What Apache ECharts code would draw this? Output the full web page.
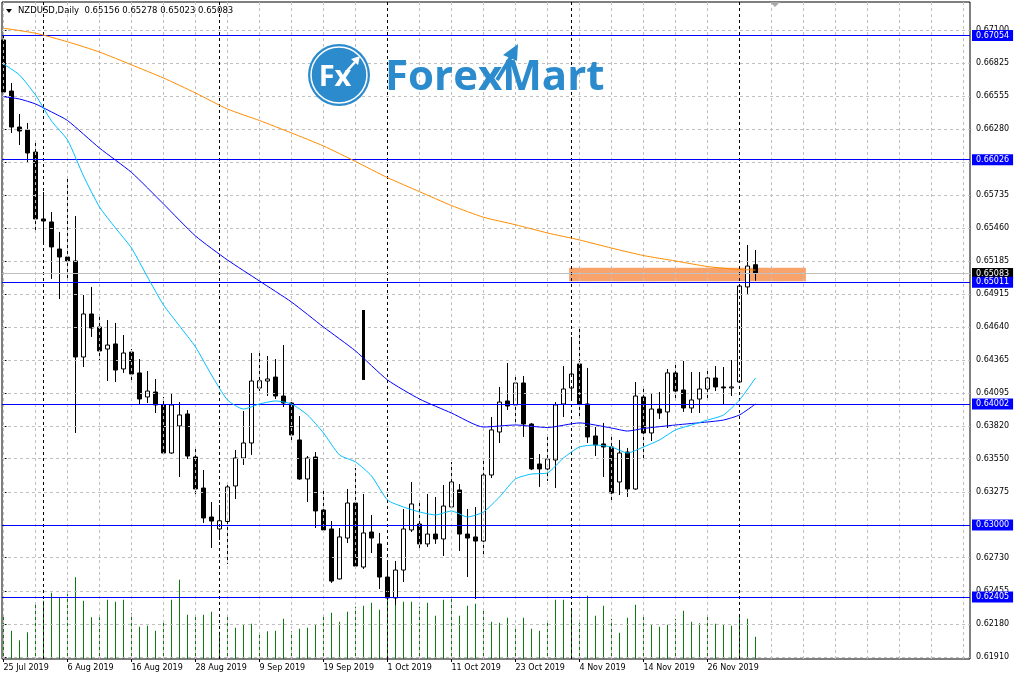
<!DOCTYPE html>
<html><head><meta charset="utf-8">
<script src="https://cdn.jsdelivr.net/npm/echarts@6/dist/echarts.min.js"></script>
<style>html,body{margin:0;padding:0;background:#fff}#c{width:1016px;height:679px}</style>
</head><body><div id="c"></div>
<script>
const symbolName = 'NZDUSD,Daily';
const dateLabels = ['25 Jul 2019','6 Aug 2019','16 Aug 2019','28 Aug 2019','9 Sep 2019','19 Sep 2019','1 Oct 2019','11 Oct 2019','23 Oct 2019','4 Nov 2019','14 Nov 2019','26 Nov 2019'];
const dateIdx = [0,8,16,24,32,40,48,56,64,72,80,88];
const yTicks = [0.61910,0.62180,0.62455,0.62730,0.63000,0.63275,0.63550,0.63820,0.64095,0.64365,0.64640,0.64915,0.65185,0.65460,0.65735,0.66005,0.66280,0.66555,0.66825,0.67100];
const gridIdx = [0,4,8,12,16,20,24,28,32,36,40,44,48,52,56,60,64,68,72,76,80,84,88,92,96,100,104,108,112,116,120];
const monthSepIdx = [5,27,48,71,92];

const open = [0.67017,0.66594,0.66296,0.66272,0.66089,0.65535,0.65510,0.65286,0.65220,0.65187,
0.64392,0.64748,0.64640,0.64458,0.64500,0.64293,0.64433,0.64260,0.64061,0.64102,
0.63995,0.63597,0.63821,0.63920,0.63564,0.63307,0.63067,0.62968,0.63030,0.63324,
0.63556,0.63680,0.64135,0.64193,0.64226,0.64069,0.64011,0.63705,0.63382,0.63564,
0.63125,0.62968,0.62554,0.62893,0.63183,0.62653,0.62943,0.62844,0.62570,0.62397,
0.62628,0.62960,0.63009,0.62844,0.62926,0.62885,0.63150,0.63291,0.62926,0.62902,
0.62868,0.63415,0.63771,0.64028,0.63995,0.64177,0.63837,0.63506,0.63465,0.63539,
0.64003,0.64135,0.64334,0.64003,0.63738,0.63672,0.63647,0.63357,0.63605,0.63299,
0.64061,0.63763,0.63961,0.63937,0.64260,0.64119,0.63970,0.64044,0.64127,0.64218,
0.64144,0.64136,0.64185,0.64972,0.65156];
const high = [0.67075,0.66661,0.66404,0.66330,0.66172,0.65758,0.65593,0.65427,0.65866,0.65559,
0.64905,0.64972,0.64740,0.64698,0.64674,0.64574,0.64458,0.64375,0.64276,0.64210,
0.64061,0.64086,0.64019,0.63953,0.63647,0.63456,0.63191,0.63167,0.63349,0.63622,
0.63945,0.64425,0.64433,0.64400,0.64375,0.64491,0.64020,0.63903,0.63572,0.63605,
0.63307,0.63034,0.62976,0.63299,0.63473,0.63258,0.63084,0.62935,0.62711,0.62703,
0.63133,0.63357,0.63200,0.63258,0.63233,0.63332,0.63523,0.63340,0.63133,0.63150,
0.63531,0.63895,0.64144,0.64342,0.64251,0.64235,0.63845,0.63589,0.63738,0.64019,
0.64317,0.64558,0.64640,0.64301,0.63812,0.63846,0.63746,0.63705,0.63639,0.64185,
0.64144,0.64094,0.64102,0.64293,0.64342,0.64359,0.64268,0.64268,0.64293,0.64317,
0.64309,0.64367,0.64985,0.65319,0.65278];
const low = [0.66561,0.66247,0.66147,0.65998,0.65419,0.65319,0.65038,0.64872,0.65046,0.63763,
0.64309,0.64558,0.64367,0.64193,0.64185,0.64260,0.64185,0.64003,0.64011,0.63928,
0.63589,0.63590,0.63398,0.63547,0.63241,0.63018,0.62811,0.62877,0.62678,0.63216,
0.63498,0.63581,0.64110,0.64069,0.64044,0.63978,0.63696,0.63375,0.63191,0.62976,
0.62935,0.62521,0.62550,0.62852,0.62637,0.62637,0.62769,0.62471,0.62380,0.62339,
0.62529,0.62943,0.62811,0.62819,0.62844,0.62744,0.63133,0.62786,0.62570,0.62388,
0.62753,0.63390,0.63680,0.63953,0.63837,0.63730,0.63456,0.63316,0.63365,0.63307,
0.63895,0.64036,0.63879,0.63680,0.63572,0.63398,0.63191,0.63249,0.63233,0.63291,
0.63539,0.63696,0.63879,0.63804,0.64028,0.63937,0.63928,0.63928,0.64036,0.64110,
0.64003,0.64069,0.64177,0.64914,0.65023];
const close = [0.66586,0.66296,0.66263,0.66081,0.65535,0.65518,0.65303,0.65220,0.65187,0.64392,
0.64748,0.64632,0.64442,0.64491,0.64284,0.64425,0.64251,0.64044,0.64110,0.63995,
0.63597,0.63995,0.63912,0.63572,0.63299,0.63059,0.63034,0.63036,0.63316,0.63556,
0.63680,0.64193,0.64195,0.64210,0.64069,0.64011,0.63746,0.63382,0.63556,0.63117,
0.62960,0.62537,0.62902,0.63183,0.62661,0.62935,0.62893,0.62570,0.62397,0.62628,
0.62968,0.63175,0.62844,0.62926,0.62885,0.63158,0.63357,0.62926,0.62893,0.62868,
0.63415,0.63788,0.64019,0.63986,0.64177,0.63837,0.63465,0.63465,0.63547,0.63995,
0.64127,0.64251,0.64003,0.63730,0.63663,0.63647,0.63266,0.63597,0.63299,0.64069,
0.63763,0.63961,0.63928,0.64260,0.64110,0.63970,0.64036,0.64127,0.64218,0.64144,
0.64136,0.64144,0.64980,0.65145,0.65083];
const volume = [43300,28300,18700,26700,55700,58300,66300,61700,65300,81700,
58300,41700,41700,59300,57300,59300,45700,32300,33300,28300,
36700,59300,79300,44300,43700,44300,47300,27300,42300,31300,
34700,35300,26700,27700,28300,40300,27700,30300,31300,34300,
42300,46300,37300,47300,52300,53300,56300,49300,66000,54700,
57300,57300,52300,56300,43300,59300,61300,43300,53300,55300,
50300,37300,36300,41300,33300,41300,30300,28300,38700,59300,
59300,51000,39300,63300,43300,53300,40300,26300,41300,54300,
42300,34300,32300,34300,40300,48300,37300,35700,43300,35300,
34300,33300,42300,40300,22300];

const ma200Idx = [0,4,8,12,16,20,24,28,32,36,40,44,48,52,56,60,64,68,72,76,80,84,88,92,94];
const ma200 = [0.67114,0.67073,0.67002,0.66917,0.66811,0.66702,0.66578,0.66445,0.66350,0.66247,0.66139,0.66011,0.65877,0.65761,0.65646,0.65549,0.65487,0.65419,0.65361,0.65294,0.65232,0.65187,0.65141,0.65116,0.65112];
const ma50Idx = [0,2,4,6,8,12,16,20,24,28,32,36,40,44,48,52,56,60,64,68,72,76,78,80,84,88,90,92,94];
const ma50 = [0.66547,0.66528,0.66487,0.66421,0.66350,0.66122,0.65920,0.65659,0.65394,0.65195,0.65021,0.64847,0.64640,0.64442,0.64202,0.64044,0.63928,0.63812,0.63829,0.63808,0.63846,0.63804,0.63779,0.63800,0.63829,0.63854,0.63870,0.63912,0.64003];
const ma20Idx = [0,2,4,6,8,10,12,14,16,18,20,22,24,26,28,30,32,34,36,38,40,42,44,46,48,50,52,54,56,58,60,62,64,66,68,70,72,74,76,78,80,82,84,86,88,90,92,94];
const ma20 = [0.66818,0.66727,0.66561,0.66346,0.66189,0.65891,0.65634,0.65460,0.65294,0.65054,
0.64823,0.64649,0.64475,0.64243,0.64036,0.63961,0.64003,0.64028,0.64003,0.63912,
0.63763,0.63581,0.63523,0.63407,0.63208,0.63150,0.63109,0.63084,0.63117,0.63067,
0.63109,0.63233,0.63382,0.63423,0.63432,0.63556,0.63647,0.63663,0.63647,0.63597,
0.63647,0.63705,0.63788,0.63829,0.63870,0.63912,0.64036,0.64218];

const levels = [0.67054,0.66026,0.65011,0.64002,0.63000,0.62405];
const bidPrice = 0.65083;
const zoneIdx = [70.7,100.3];
const zonePrice = [0.65130,0.65020];
const spikeIdx = 45;
const spikePrice = [0.64781,0.64202];

const FONT = 'DejaVu Sans';
const candles = open.map((o,i)=>[i,o,close[i],low[i],high[i]]);
const vols = volume.map((v,i)=>[i,v]);
const last = open.length-1;
const fmt = v => Number(v).toFixed(5);

const chart = echarts.init(document.getElementById('c'), null, {renderer:'canvas'});
chart.setOption({
  animation:false,
  backgroundColor:'#fff',
  grid:{left:2,right:46,top:2,bottom:20,show:true,borderColor:'#000',borderWidth:1,backgroundColor:'#fff'},
  xAxis:{type:'value',min:-0.1875,max:120.8125,
    axisLine:{show:false},
    splitLine:{show:false},
    axisTick:{show:true,customValues:dateIdx,length:3,lineStyle:{color:'#000'}},
    axisLabel:{customValues:dateIdx,align:'left',margin:5,fontFamily:FONT,fontSize:8,color:'#000',
      formatter:v=>dateLabels[dateIdx.indexOf(Math.round(v))]||''}},
  yAxis:[{type:'value',position:'right',min:0.618914,max:0.673313,
    axisLine:{show:false},splitLine:{show:false},
    axisTick:{show:true,customValues:yTicks,length:3,lineStyle:{color:'#000'}},
    axisLabel:{customValues:yTicks,margin:6,fontFamily:FONT,fontSize:8,color:'#000',formatter:v=>fmt(v)}},
    {type:'value',show:false,min:0,max:657000}],
  graphic:[
    {type:'polygon',shape:{points:[[6,9],[12,9],[9,13]]},style:{fill:'#000'},z:20},
    {type:'text',x:18,y:11,style:{text:symbolName+'  '+fmt(open[last])+' '+fmt(high[last])+' '+fmt(low[last])+' '+fmt(close[last]),fill:'#000',font:'8.5px "DejaVu Sans"',verticalAlign:'middle'},z:20},
    {type:'polygon',shape:{points:[[770,2],[780,2],[775,7]]},style:{fill:'#a8a8a8'},z:20},
    {type:'circle',shape:{cx:339,cy:75,r:31},style:{fill:'#2b8bcc'},z:20},
    {type:'circle',shape:{cx:339,cy:75,r:28},style:{fill:'none',stroke:'#fff',lineWidth:1.5},z:21},
    {type:'text',x:335,y:78,style:{text:'Fx',fill:'#fff',font:'bold 29px "Open Sans"',align:'center',verticalAlign:'middle'},z:22},
    {type:'polyline',shape:{points:[[346,72],[356,61]]},style:{stroke:'#fff',lineWidth:2.5},z:22},
    {type:'polygon',shape:{points:[[351,59],[360,56],[358,65]]},style:{fill:'#fff'},z:22},
    {type:'text',x:385,y:78,style:{text:'ForexMart',fill:'#2b8bcc',font:'bold 42px "Open Sans"',verticalAlign:'middle'},z:20},
    {type:'polyline',shape:{points:[[497,80],[511,57]]},style:{stroke:'#2b8bcc',lineWidth:4},z:21},
    {type:'polygon',shape:{points:[[503,55],[518,44],[517,61]]},style:{fill:'#2b8bcc'},z:21}
  ],
  series:[
    {type:'line',data:[],z:1,silent:true,
      markLine:{symbol:'none',silent:true,animation:false,precision:6,label:{show:false},
        lineStyle:{color:'#c0c0c0',type:[3,3],width:1},
        data:[...gridIdx.map(v=>({xAxis:v})),...yTicks.map(v=>({yAxis:v}))]}},
    {type:'line',data:[],z:1,silent:true,
      markLine:{symbol:'none',silent:true,animation:false,precision:6,label:{show:false},
        lineStyle:{color:'#000',type:[3,3],width:1},
        data:monthSepIdx.map(v=>({xAxis:v}))}},
    {type:'line',data:[],z:2,silent:true,
      markArea:{silent:true,itemStyle:{color:'#f8a36b'},
        data:[[{coord:[zoneIdx[0],zonePrice[0]]},{coord:[zoneIdx[1],zonePrice[1]]}]]}},
    {type:'bar',yAxisIndex:1,data:vols,barWidth:1,itemStyle:{color:'#0a7a0a'},z:2,silent:true},
    {type:'line',data:[],z:3,silent:true,
      markLine:{symbol:'none',silent:true,animation:false,precision:6,
        lineStyle:{color:'#c0c0c0',type:'solid',width:1},
        label:{show:true,position:'end',distance:2,formatter:p=>fmt(p.value),color:'#fff',backgroundColor:'#000',padding:[1,4,1,4],fontFamily:FONT,fontSize:8,lineHeight:9},
        data:[{yAxis:bidPrice}]}},
    {type:'candlestick',data:candles,barWidth:5,z:4,silent:true,
      itemStyle:{color:'#fff',color0:'#000',borderColor:'#000',borderColor0:'#000',borderWidth:1},
      markLine:{symbol:'none',silent:true,animation:false,precision:6,label:{show:false},
        lineStyle:{color:'#000',type:'solid',width:3},
        data:[[{coord:[spikeIdx,spikePrice[0]]},{coord:[spikeIdx,spikePrice[1]]}]]}},
    {type:'line',data:ma200Idx.map((x,i)=>[x,ma200[i]]),showSymbol:false,smooth:0.2,z:5,silent:true,lineStyle:{color:'#ff8c00',width:1}},
    {type:'line',data:ma50Idx.map((x,i)=>[x,ma50[i]]),showSymbol:false,smooth:0.2,z:5,silent:true,lineStyle:{color:'#0000ff',width:1}},
    {type:'line',data:ma20Idx.map((x,i)=>[x,ma20[i]]),showSymbol:false,smooth:0.2,z:5,silent:true,lineStyle:{color:'#00bfff',width:1}},
    {type:'line',data:[],z:6,silent:true,
      markLine:{symbol:'none',silent:true,animation:false,precision:6,
        lineStyle:{color:'#0000ff',type:'solid',width:1},
        label:{show:true,position:'end',distance:2,formatter:p=>fmt(p.value),color:'#fff',backgroundColor:'#0000ff',padding:[1,4,1,4],fontFamily:FONT,fontSize:8,lineHeight:9},
        data:levels.map(v=>({yAxis:v}))}}
  ]
});
</script></body></html>
